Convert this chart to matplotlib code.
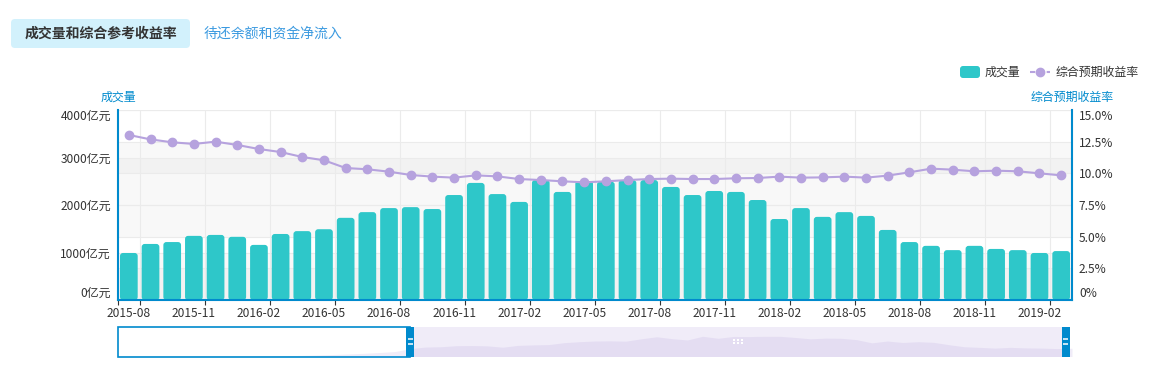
import matplotlib
matplotlib.use('Agg')
import matplotlib.pyplot as plt
from matplotlib.patches import FancyBboxPatch, Rectangle
from matplotlib.lines import Line2D
import numpy as np
import pandas as pd

plt.rcParams['font.family'] = ['Noto Sans CJK SC', 'DejaVu Sans']

# ---- data ----
months = list(pd.period_range('2015-08', '2019-03', freq='M').strftime('%Y-%m'))
volume = [990, 1180, 1220, 1350, 1370, 1330, 1160, 1390, 1450, 1490,
          1730, 1850, 1935, 1955, 1915, 2210, 2465, 2230, 2065, 2525,
          2275, 2505, 2490, 2525, 2525, 2380, 2210, 2295, 2275, 2105,
          1705, 1935, 1750, 1850, 1770, 1475, 1220, 1140, 1050, 1140,
          1075, 1050, 990, 1030]
rate = [13.03, 12.68, 12.45, 12.32, 12.50, 12.24, 11.92, 11.68, 11.29, 11.03,
        10.42, 10.32, 10.13, 9.87, 9.74, 9.66, 9.84, 9.76, 9.55, 9.47,
        9.37, 9.29, 9.37, 9.47, 9.55, 9.58, 9.55, 9.55, 9.61, 9.63,
        9.74, 9.66, 9.68, 9.74, 9.66, 9.82, 10.08, 10.37, 10.29, 10.16,
        10.21, 10.16, 10.00, 9.84]
# earlier months only visible as the faint shadow in the zoom slider
early_volume = [0, 0, 0, 0, 0, 0, 0, 0, 10, 30, 60, 100, 140, 190, 250, 320, 400, 500, 620]

vol_ticks = [0, 1000, 2000, 3000, 4000]
vol_labels = ['0亿元', '1000亿元', '2000亿元', '3000亿元', '4000亿元']
rate_ticks = [0, 2.5, 5, 7.5, 10, 12.5, 15]
rate_labels = ['0%', '2.5%', '5.0%', '7.5%', '10.0%', '12.5%', '15.0%']

TEAL = '#2ec7c9'
PURPLE = '#b6a2de'
BLUE = '#008acd'
TXT = '#333333'
FS = 8.6

W, H = 1160, 367
fig = plt.figure(figsize=(W / 100, H / 100), dpi=100)


def box(l, t, r, b):
    return [l / W, 1 - b / H, (r - l) / W, (b - t) / H]


# ---- main chart ----
ax = fig.add_axes(box(118, 110, 1072, 300))
n = len(volume)
ax.set_xlim(-0.5, n - 0.5)
ax.set_ylim(vol_ticks[0], vol_ticks[-1])
conv = vol_ticks[-1] / rate_ticks[-1]

# split areas of both y axes
grey = (200 / 255, 200 / 255, 200 / 255)
for i in range(0, len(vol_ticks) - 1, 2):
    ax.axhspan(vol_ticks[i], vol_ticks[i + 1], color=grey, alpha=0.12, lw=0, zorder=0)
for i in range(0, len(rate_ticks) - 1, 2):
    ax.axhspan(rate_ticks[i] * conv, rate_ticks[i + 1] * conv, color=grey, alpha=0.12, lw=0, zorder=0)

# grid
for v in vol_ticks[1:]:
    ax.axhline(v, color='#ebebeb', lw=0.8, zorder=0.5)
for v in rate_ticks[1:]:
    ax.axhline(v * conv, color='#ebebeb', lw=0.8, zorder=0.5)
bounds = [i + 0.5 for i in range(0, n - 1, 3)]
for xb in bounds:
    ax.axvline(xb, color='#ebebeb', lw=0.8, zorder=0.5)

# rounded bars
bw = 0.816
xpp = n / 954.0
ypp = vol_ticks[-1] / 190.0
for i, v in enumerate(volume):
    ax.add_patch(FancyBboxPatch((i - bw / 2, 0), bw, v,
                                boxstyle='round,pad=0,rounding_size=%f' % (3 * xpp),
                                mutation_aspect=ypp / xpp,
                                fc=TEAL, ec='none', zorder=2))

ax.set_xticks(range(0, n, 3))
ax.set_xticklabels(months[::3])
ax.set_xticks([-0.5] + bounds, minor=True)
ax.tick_params(axis='x', which='major', length=0, pad=5, labelsize=FS, labelcolor=TXT)
ax.tick_params(axis='x', which='minor', length=3.6, width=0.8, color=TXT)
ax.set_yticks(vol_ticks)
ax.set_yticklabels(vol_labels)
ax.tick_params(axis='y', length=0, pad=5, labelsize=FS, labelcolor=TXT)
ylab = ax.get_yticklabels()
ylab[0].set_va('bottom')
ylab[-1].set_va('top')

for s in ['top', 'right']:
    ax.spines[s].set_visible(False)
for s in ['left', 'bottom']:
    ax.spines[s].set_color(BLUE)
    ax.spines[s].set_linewidth(1.5)

ax2 = ax.twinx()
ax2.set_ylim(rate_ticks[0], rate_ticks[-1])
ax2.plot(range(n), rate, color=PURPLE, lw=1.5, marker='o', ms=6, mec=PURPLE, zorder=3, clip_on=False)
ax2.set_yticks(rate_ticks)
ax2.set_yticklabels(rate_labels)
ax2.tick_params(axis='y', length=0, pad=5, labelsize=FS, labelcolor=TXT)
rlab = ax2.get_yticklabels()
rlab[0].set_va('bottom')
rlab[-1].set_va('top')
for s in ['top', 'left', 'bottom']:
    ax2.spines[s].set_visible(False)
ax2.spines['right'].set_color(BLUE)
ax2.spines['right'].set_linewidth(1.5)

# ---- zoom slider ----
axs = fig.add_axes(box(118, 326.5, 1072, 356.5))
all_vol = early_volume + volume
m = len(all_vol)
axs.set_xlim(0, m - 1)
axs.set_ylim(0, 3750)
axs.set_facecolor('white')
axs.axis('off')
lav = (182 / 255, 162 / 255, 222 / 255, 0.2)
axs.fill_between(range(m), all_vol, color=lav, lw=0)
sel_start, sel_end = len(early_volume), m - 1.4
axs.axvspan(sel_start, sel_end, color=lav, lw=0)
axs.add_patch(Rectangle((0, 0), sel_start, 3750, fc='none', ec=BLUE, lw=1.2, clip_on=False))
hw = 8 * (m - 1) / 954.0
for hx in (sel_start, sel_end):
    axs.add_patch(Rectangle((hx - hw / 2, 0), hw, 3750, fc=BLUE, ec='none', clip_on=False, zorder=3))
    for hy in (1550, 2200):
        axs.plot([hx - hw * 0.3, hx + hw * 0.3], [hy, hy], color='white', lw=1.1,
                 solid_capstyle='butt', zorder=4)
mid = (sel_start + sel_end) / 2
gx = [mid - 0.25, mid, mid + 0.25] * 2
gy = [2050] * 3 + [1650] * 3
axs.scatter(gx, gy, s=1.5, marker='s', color='white', lw=0, zorder=3)

# ---- overlay: tabs, legend, axis names ----
ov = fig.add_axes([0, 0, 1, 1])
ov.set_xlim(0, W)
ov.set_ylim(H, 0)
ov.axis('off')
ov.patch.set_alpha(0)

ov.add_patch(FancyBboxPatch((11, 19), 179, 29, boxstyle='round,pad=0,rounding_size=4',
                            fc='#d2f1fc', ec='none'))
ov.text(100.5, 34, '成交量和综合参考收益率', ha='center', va='center', fontsize=10,
        fontweight='bold', color=TXT)
ov.text(204, 34, '待还余额和资金净流入', ha='left', va='center', fontsize=10, color='#3b9ae0')

ov.add_patch(FancyBboxPatch((960, 66), 20, 12, boxstyle='round,pad=0,rounding_size=3',
                            fc=TEAL, ec='none'))
ov.text(985, 72, '成交量', ha='left', va='center', fontsize=FS, color=TXT)
ov.add_line(Line2D([1030, 1050], [72, 72], color=PURPLE, lw=1.5, ls=(0, (2.5, 1.5))))
ov.plot([1040], [72], marker='o', ms=6, color=PURPLE)
ov.text(1056, 72, '综合预期收益率', ha='left', va='center', fontsize=FS, color=TXT)

ov.text(118, 97, '成交量', ha='center', va='center', fontsize=FS, color=BLUE)
ov.text(1072, 97, '综合预期收益率', ha='center', va='center', fontsize=FS, color=BLUE)

fig.savefig('out.png', dpi=100)
